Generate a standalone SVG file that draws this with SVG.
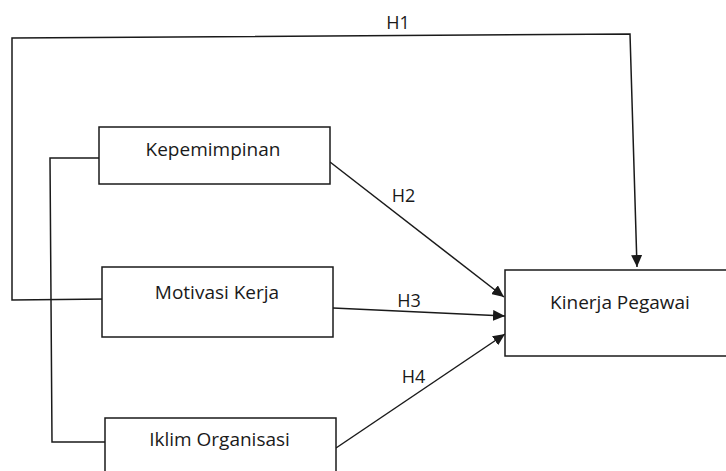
<svg xmlns="http://www.w3.org/2000/svg" width="726" height="471" viewBox="0 0 726 471">
<style>
.box{fill:#fff;stroke:#1a1a1a;stroke-width:1.5}
.ln{fill:none;stroke:#1a1a1a;stroke-width:1.5}
.t{font-family:"Open Sans","Noto Sans",sans-serif;font-size:19px;fill:#1a1a1a;text-anchor:middle}
.h{font-family:"Open Sans","Noto Sans",sans-serif;font-size:18px;fill:#1a1a1a;text-anchor:middle}
</style>
<defs>
<marker id="arr" markerUnits="userSpaceOnUse" markerWidth="12" markerHeight="11" refX="12" refY="5.5" orient="auto">
<path d="M0,0 L12,5.5 L0,11 z" fill="#1a1a1a"/>
</marker>
</defs>
<rect width="726" height="471" fill="#fff"/>
<g id="connectors">
<polyline class="ln" points="108,299 12,300 12,38 630,34 637,267" marker-end="url(#arr)"/>
<polyline class="ln" points="99,158 50,158 52,442 105,442"/>
<line class="ln" x1="330" y1="162" x2="504" y2="297" marker-end="url(#arr)"/>
<line class="ln" x1="333" y1="308" x2="505" y2="316" marker-end="url(#arr)"/>
<line class="ln" x1="336" y1="448" x2="505" y2="334" marker-end="url(#arr)"/>
<text class="h" x="398" y="29">H1</text>
<text class="h" x="403.5" y="202">H2</text>
<text class="h" x="409" y="307">H3</text>
<text class="h" x="413.5" y="383">H4</text>
</g>
<g id="kepemimpinan">
<rect class="box" x="99" y="127" width="231" height="57"/>
<text class="t" x="213" y="156">Kepemimpinan</text>
</g>
<g id="motivasi-kerja">
<rect class="box" x="102" y="267" width="231" height="70"/>
<text class="t" x="217" y="299">Motivasi Kerja</text>
</g>
<g id="iklim-organisasi">
<rect class="box" x="105" y="418" width="231" height="70"/>
<text class="t" x="219.5" y="446">Iklim Organisasi</text>
</g>
<g id="kinerja-pegawai">
<rect class="box" x="505" y="270" width="230" height="86"/>
<text class="t" x="620" y="309">Kinerja Pegawai</text>
</g>
</svg>
